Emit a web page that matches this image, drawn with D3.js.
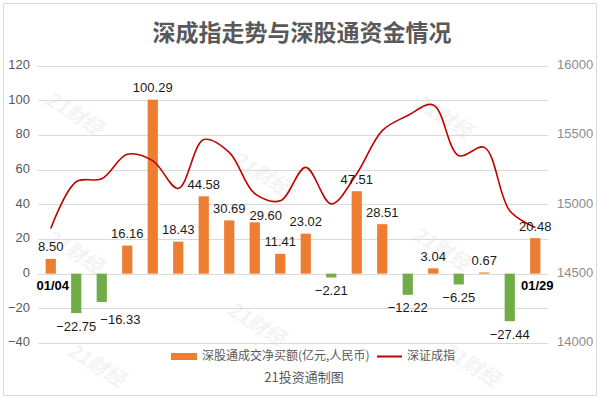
<!DOCTYPE html>
<html>
<head>
<meta charset="utf-8">
<script src="https://cdn.jsdelivr.net/npm/d3@7"></script>
<style>
  body { margin: 0; background: #fff; }
  text { font-family: "Liberation Sans", Arial, "Noto Sans CJK SC", sans-serif; }
  .cjk { font-family: "Noto Sans CJK SC", "Liberation Sans", sans-serif; }
</style>
</head>
<body>
<div id="chart"></div>
<script>
// trading days, january
const dates = ["01/04", "01/05", "01/06", "01/07", "01/08", "01/11", "01/12", "01/13", "01/14", "01/15",
               "01/18", "01/19", "01/20", "01/21", "01/22", "01/25", "01/26", "01/27", "01/28", "01/29"];
// net buy through shenzhen connect (100m yuan)
const netBuy = [8.50, -22.75, -16.33, 16.16, 100.29, 18.43, 44.58, 30.69, 29.60, 11.41,
                23.02, -2.21, 47.51, 28.51, -12.22, 3.04, -6.25, 0.67, -27.44, 20.48];
// shenzhen component index close
const szIndex = [14825, 15162, 15184, 15360, 15314, 15114, 15466, 15374, 15076, 15025,
                 15266, 15003, 15220, 15531, 15639, 15716, 15350, 15410, 14953, 14832];
const leftTicks = [-40, -20, 0, 20, 40, 60, 80, 100, 120];
const rightTicks = [14000, 14500, 15000, 15500, 16000];
const watermarks = [[73, 115], [260, 175], [442, 118], [73, 253], [255, 325], [440, 250], [95, 366], [470, 366]];

const W = 601, H = 399;
const margin = {top: 65.5, right: 53, bottom: 56, left: 38};

let svg = d3.select("#chart").append("svg")
    .attr("width", W)
    .attr("height", H);

// outer frame
svg.append("rect")
    .attr("x", 3.5).attr("y", 3.5)
    .attr("width", 593).attr("height", 392)
    .attr("fill", "#fff")
    .attr("stroke", "#d9d9d9");

// watermark
svg.append("g").selectAll("text")
    .data(watermarks)
    .join("text")
    .attr("class", "cjk")
    .attr("transform", d => "translate(" + d[0] + "," + d[1] + ") rotate(32)")
    .attr("text-anchor", "middle")
    .attr("dominant-baseline", "middle")
    .attr("font-size", 20)
    .attr("font-weight", "bold")
    .attr("font-style", "italic")
    .attr("fill", "#000")
    .attr("opacity", 0.045)
    .text("21财经");

// title
svg.append("text")
    .attr("class", "cjk")
    .attr("x", 302).attr("y", 35)
    .attr("text-anchor", "middle")
    .attr("dominant-baseline", "middle")
    .attr("font-size", 23)
    .attr("font-weight", "bold")
    .attr("fill", "#595959")
    .text("深成指走势与深股通资金情况");

let x = d3.scaleBand()
    .domain(dates)
    .range([margin.left, W - margin.right])
    .paddingInner(0.6)
    .paddingOuter(0.3);

let y = d3.scaleLinear()
    .domain([-40, 120])
    .range([343, margin.top]);

let y2 = d3.scaleLinear()
    .domain([14000, 16000])
    .range([343, margin.top]);

// grid lines
svg.append("g").selectAll("line")
    .data(leftTicks)
    .join("line")
    .attr("x1", x.range()[0])
    .attr("x2", x.range()[1])
    .attr("y1", d => Math.round(y(d)) + 0.5)
    .attr("y2", d => Math.round(y(d)) + 0.5)
    .attr("stroke", "#d9d9d9");

// left axis labels
svg.append("g").selectAll("text")
    .data(leftTicks)
    .join("text")
    .attr("x", 30)
    .attr("y", d => y(d))
    .attr("text-anchor", "end")
    .attr("dominant-baseline", "middle")
    .attr("font-size", 13)
    .attr("fill", "#595959")
    .text(d => d3.format("d")(d));

// right axis labels
svg.append("g").selectAll("text")
    .data(rightTicks)
    .join("text")
    .attr("x", 557)
    .attr("y", d => y2(d))
    .attr("dominant-baseline", "middle")
    .attr("font-size", 13)
    .attr("fill", "#8c8c8c")
    .text(d => d);

// bars
svg.append("g").selectAll("rect")
    .data(netBuy)
    .join("rect")
    .attr("x", (d, i) => x(dates[i]))
    .attr("y", d => y(Math.max(0, d)))
    .attr("width", x.bandwidth())
    .attr("height", d => Math.abs(y(d) - y(0)))
    .attr("fill", d => d >= 0 ? "#ed7d31" : "#70ad47");

// index line
const indexLine = d3.line()
    .x((d, i) => x(dates[i]) + x.bandwidth() / 2)
    .y(d => y2(d))
    .curve(d3.curveCatmullRom.alpha(0.5));

svg.append("path")
    .datum(szIndex)
    .attr("d", indexLine)
    .attr("fill", "none")
    .attr("stroke", "#c00000")
    .attr("stroke-width", 1.6);

// bar value labels
const fmt = d3.format(".2f");
let labels = svg.append("g").selectAll("text")
    .data(netBuy)
    .join("text")
    .attr("x", (d, i) => x(dates[i]) + x.bandwidth() / 2)
    .attr("y", d => d >= 0 ? y(d) - 11 : y(d) + 14)
    .attr("text-anchor", "middle")
    .attr("dominant-baseline", "middle")
    .attr("font-size", 13)
    .attr("fill", "#1a1a1a")
    .text(d => fmt(d));

// push a label sideways when it runs into the one before it
let prev = null;
labels.each(function() {
    let b = this.getBBox();
    if (prev && b.x < prev.x + prev.width && Math.abs(b.y - prev.y) < b.height - 2) {
        let shift = prev.x + prev.width + 4 - b.x;
        d3.select(this).attr("x", +d3.select(this).attr("x") + shift).attr("y", +d3.select(this).attr("y") + 5);
        b = this.getBBox();
    }
    prev = b;
});

// first and last date
const shownDates = [dates[0], dates[dates.length - 1]];
svg.append("g").selectAll("text")
    .data(shownDates)
    .join("text")
    .attr("x", d => x(d) + x.bandwidth() / 2 + 2)
    .attr("y", 287)
    .attr("text-anchor", "middle")
    .attr("dominant-baseline", "middle")
    .attr("font-size", 13)
    .attr("font-weight", "bold")
    .attr("fill", "#000")
    .text(d => d);

// legend
let legend = svg.append("g");
legend.append("rect")
    .attr("x", 171).attr("y", 353)
    .attr("width", 26).attr("height", 7)
    .attr("fill", "#ed7d31");
legend.append("text")
    .attr("class", "cjk")
    .attr("x", 202).attr("y", 356.5)
    .attr("dominant-baseline", "middle")
    .attr("font-size", 12)
    .attr("fill", "#595959")
    .text("深股通成交净买额(亿元,人民币)");
legend.append("line")
    .attr("x1", 377).attr("x2", 402)
    .attr("y1", 356.5).attr("y2", 356.5)
    .attr("stroke", "#c00000")
    .attr("stroke-width", 2);
legend.append("text")
    .attr("class", "cjk")
    .attr("x", 407).attr("y", 356.5)
    .attr("dominant-baseline", "middle")
    .attr("font-size", 12)
    .attr("fill", "#595959")
    .text("深证成指");

svg.append("text")
    .attr("class", "cjk")
    .attr("x", 304).attr("y", 378)
    .attr("text-anchor", "middle")
    .attr("dominant-baseline", "middle")
    .attr("font-size", 13)
    .attr("fill", "#595959")
    .text("21投资通制图");
</script>
</body>
</html>
